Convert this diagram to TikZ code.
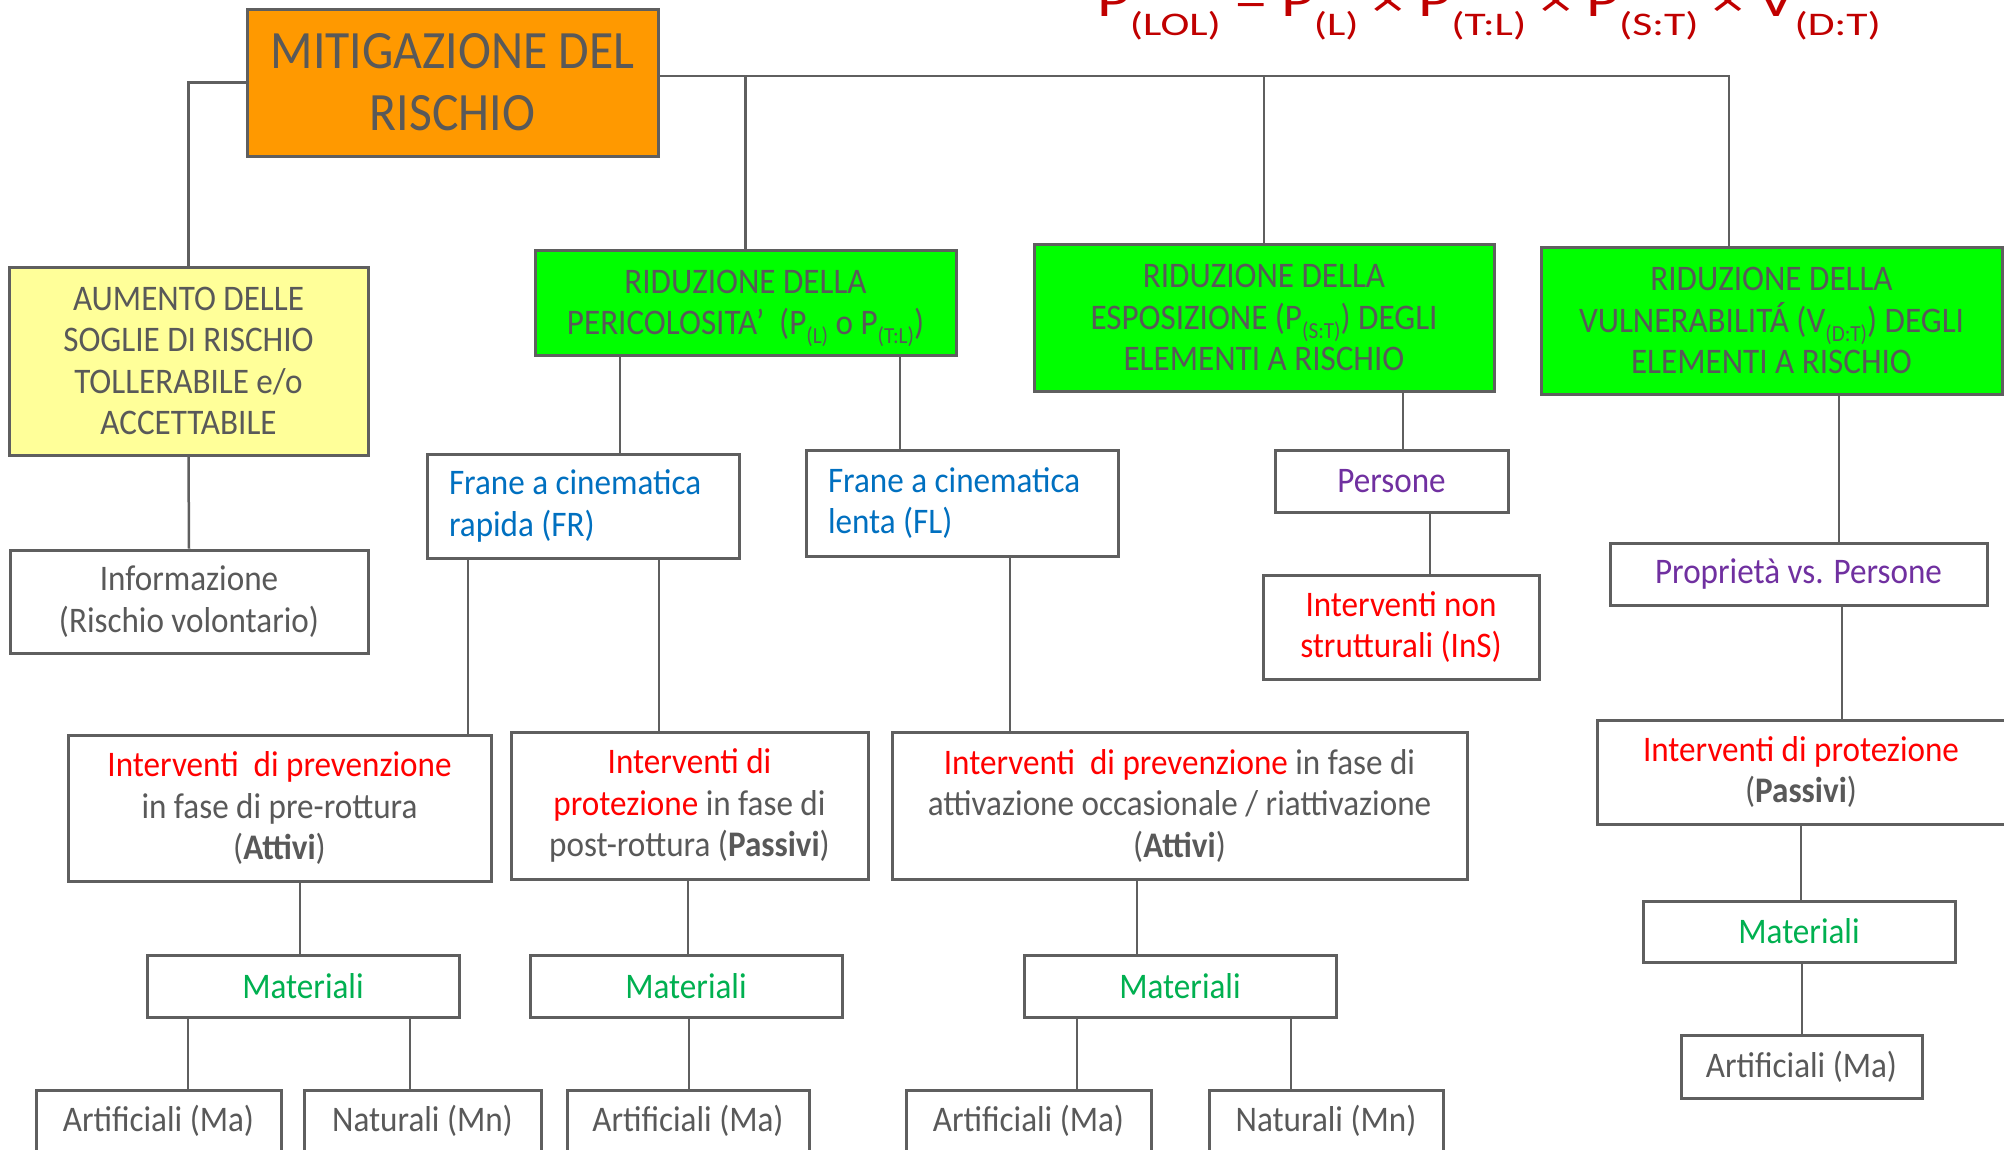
\documentclass[tikz,border=0pt]{standalone}
\usepackage{fontspec}
\setmainfont{Carlito}[FakeStretch=0.92]
\newfontfamily\formulafont{Carlito}
\usepackage{tikz}
\definecolor{boxgray}{HTML}{5F5F5F}
\definecolor{txtgray}{HTML}{595959}
\definecolor{mitorange}{HTML}{FF9900}
\definecolor{ridgreen}{HTML}{00FF00}
\definecolor{aumyellow}{HTML}{FFFF99}
\definecolor{txtred}{HTML}{FF0000}
\definecolor{txtblue}{HTML}{0070C0}
\definecolor{txtpurple}{HTML}{7030A0}
\definecolor{txtgreen}{HTML}{00B050}
\definecolor{formred}{HTML}{C00000}
\newcommand{\bodyfont}{\fontsize{36}{41.5}\selectfont}
\newcommand{\lowidx}[1]{\raisebox{-9pt}{\fontsize{23}{23}\selectfont #1}}
\newcommand{\fidx}[1]{\raisebox{-19pt}{\fontsize{33}{33}\selectfont #1}}

\begin{document}
\begin{tikzpicture}[x=1pt,y=-1pt,
  box/.style={draw=boxgray,line width=3pt,fill=white,inner sep=0pt,align=center,text=txtgray,font=\bodyfont},
  link/.style={draw=boxgray,line width=2.5pt}]
  \useasboundingbox (0,0) rectangle (2004,1149);
  \clip (0,0) rectangle (2004,1149);
  \node[anchor=base west,inner sep=0pt,text=formred] (formula) at (1097,16)
    {\scalebox{1.32}[1]{\formulafont\fontsize{48}{48}\selectfont P\fidx{(LOL)} = P\fidx{(L)} × P\fidx{(T:L)} × P\fidx{(S:T)} × V\fidx{(D:T)}}};
  \node[box,fill=mitorange,minimum width=411pt,minimum height=147pt,font=\fontsize{54}{62}\selectfont] (mit) at (452.5,82.5) {MITIGAZIONE DEL\\RISCHIO};
  \node[box,fill=aumyellow,minimum width=359pt,minimum height=188pt] (aum) at (188.5,361) {AUMENTO DELLE\\SOGLIE DI RISCHIO\\TOLLERABILE e/o\\ACCETTABILE};
  \node[box,minimum width=358pt,minimum height=103pt] (info) at (189,601.5) {Informazione\\(Rischio volontario)};
  \node[box,fill=ridgreen,minimum width=421pt,minimum height=105pt,text depth=0pt] (peric) at (745.5,302.5) {RIDUZIONE DELLA\\PERICOLOSITA’\ \ (P\lowidx{(L)} o P\lowidx{(T:L)})};
  \node[box,fill=ridgreen,minimum width=460pt,minimum height=147pt] (espos) at (1264,317.5) {RIDUZIONE DELLA\\ESPOSIZIONE (P\lowidx{(S:T)}) DEGLI\\ELEMENTI A RISCHIO};
  \node[box,fill=ridgreen,minimum width=461pt,minimum height=147pt] (vuln) at (1771.5,320.5) {RIDUZIONE DELLA\\VULNERABILITÁ (V\lowidx{(D:T)}) DEGLI\\ELEMENTI A RISCHIO};
  \node[box,minimum width=312pt,minimum height=104pt,align=flush left,text width=268pt,text=txtblue] (fr) at (583,506) {Frane a cinematica\\rapida (FR)};
  \node[box,minimum width=312pt,minimum height=106pt,align=flush left,text width=268pt,text=txtblue] (fl) at (962,503) {Frane a cinematica\\lenta (FL)};
  \node[box,minimum width=233pt,minimum height=62pt,text=txtpurple] (pers) at (1391.5,481) {Persone};
  \node[box,minimum width=276pt,minimum height=104pt,text=txtred] (ins) at (1401,627) {Interventi non\\strutturali (InS)};
  \node[box,minimum width=377pt,minimum height=62pt,text=txtpurple] (prop) at (1798.5,574) {Proprietà vs. Persone};
  \node[box,minimum width=408pt,minimum height=104pt] (int4) at (1801,772) {\textcolor{txtred}{Interventi di protezione}\\(\textbf{Passivi})};
  \node[box,minimum width=312pt,minimum height=61pt,text=txtgreen] (mat4) at (1799,931.5) {Materiali};
  \node[box,minimum width=241pt,minimum height=63pt] (art4) at (1801.5,1066.5) {Artificiali (Ma)};
  \node[box,minimum width=423pt,minimum height=146pt] (int1) at (279.5,808) {\textcolor{txtred}{Interventi\ \ di prevenzione}\\in fase di pre-rottura\\(\textbf{Attivi})};
  \node[box,minimum width=357pt,minimum height=147pt] (int2) at (689.5,805.5) {\textcolor{txtred}{Interventi di}\\\textcolor{txtred}{protezione} in fase di\\post-rottura (\textbf{Passivi})};
  \node[box,minimum width=575pt,minimum height=147pt] (int3) at (1179.5,805.5) {\textcolor{txtred}{Interventi\ \ di prevenzione} in fase di\\attivazione occasionale / riattivazione\\(\textbf{Attivi})};
  \node[box,minimum width=312pt,minimum height=62pt,text=txtgreen] (mat1) at (303,986) {Materiali};
  \node[box,minimum width=312pt,minimum height=62pt,text=txtgreen] (mat2) at (686,986) {Materiali};
  \node[box,minimum width=312pt,minimum height=62pt,text=txtgreen] (mat3) at (1180,986) {Materiali};
  \node[box,minimum width=245pt,minimum height=62pt] (art1) at (158.5,1121) {Artificiali (Ma)};
  \node[box,minimum width=237pt,minimum height=62pt] (nat1) at (422.5,1121) {Naturali (Mn)};
  \node[box,minimum width=242pt,minimum height=62pt] (art2) at (688,1121) {Artificiali (Ma)};
  \node[box,minimum width=245pt,minimum height=62pt] (art3) at (1028.5,1121) {Artificiali (Ma)};
  \node[box,minimum width=234pt,minimum height=62pt] (nat3) at (1326,1121) {Naturali (Mn)};
  \coordinate (barR) at (1729,76);
  \draw[link] (mit.east |- barR) -- (barR) -- (vuln.north -| barR);
  \draw[link] (peric.north) -- (peric.north |- barR);
  \draw[link] (espos.north) -- (espos.north |- barR);
  \draw[link] (mit.west) -| (aum.north);
  \draw[link] (aum.south) -- (info.north);
  \foreach \a/\b/\x in {peric/fr/620, peric/fl/900, fr/int1/468, fr/int2/659, fl/int3/1010,
      espos/pers/1403, pers/ins/1430, vuln/prop/1839, prop/int4/1842, int4/mat4/1801, mat4/art4/1802,
      int1/mat1/300, mat1/art1/188, mat1/nat1/410, int2/mat2/688, mat2/art2/689,
      int3/mat3/1137, mat3/art3/1077, mat3/nat3/1291}
    \draw[link] (\a.south -| \x,0) -- (\b.north -| \x,0);
\end{tikzpicture}
\end{document}
